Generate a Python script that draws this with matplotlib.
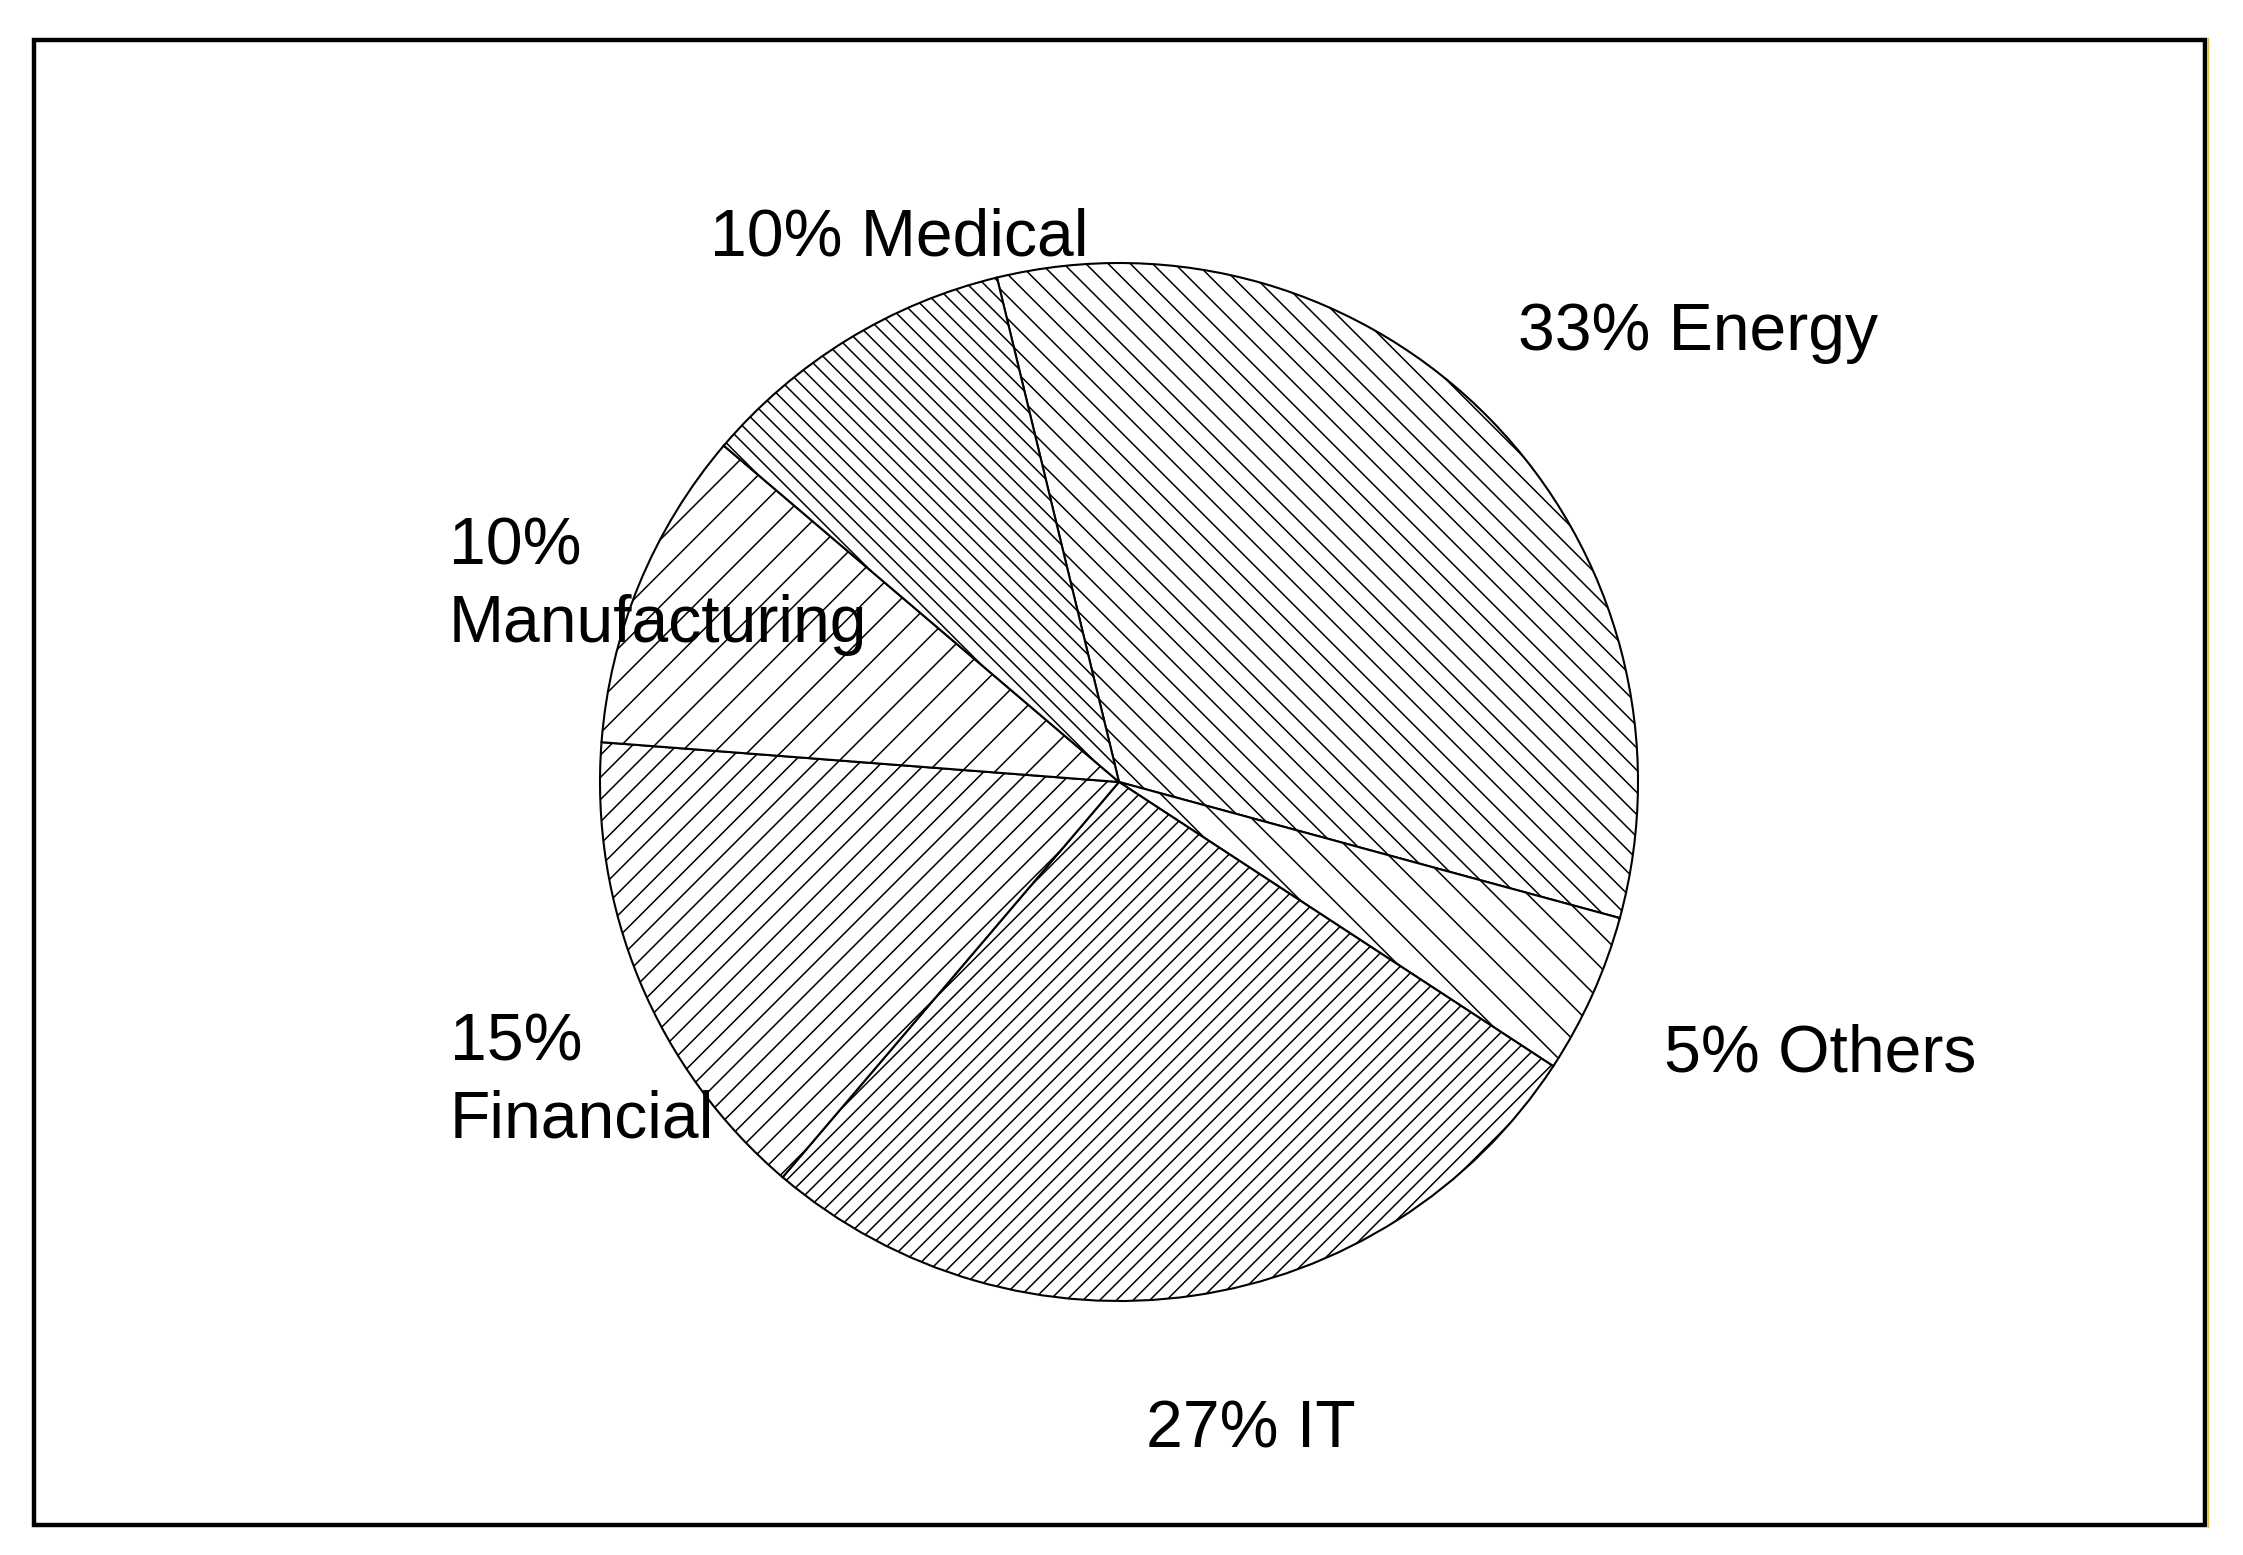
import matplotlib
matplotlib.use('Agg')
import matplotlib.pyplot as plt
from matplotlib.patches import Rectangle
from matplotlib.lines import Line2D

# ---- data ----
sectors = ['Energy', 'Others', 'IT', 'Financial', 'Manufacturing', 'Medical']
shares = [33, 5, 27, 15, 10, 10]
separators = [' ', ' ', ' ', '\n', '\n', ' ']
hatches = ['\\\\\\', '\\\\', '////', '///', '//', '\\\\\\\\']

# ---- style / layout ----
W, H, DPI = 2243, 1555, 200
plt.rcParams['font.family'] = ['Liberation Sans', 'DejaVu Sans']
plt.rcParams['hatch.linewidth'] = 0.55
plt.rcParams['hatch.color'] = 'black'

fig = plt.figure(figsize=(W / DPI, H / DPI), dpi=DPI)
fig.patch.set_facecolor('white')

cx, cy, r = 1119, 782, 519   # pie centre / radius in pixels (y from top)
ax = fig.add_axes([(cx - r) / W, 1 - (cy + r) / H, 2 * r / W, 2 * r / H])
wedges, _ = ax.pie(shares, startangle=103.6, counterclock=False, radius=1,
                   colors=['white'] * len(shares), hatch=hatches,
                   wedgeprops=dict(edgecolor='black', linewidth=0.75))
ax.set_xlim(-1, 1)
ax.set_ylim(-1, 1)
ax.axis('off')

# label anchor points (left, baseline of last line) in pixels from top-left
label_pos = {
    'Energy': (1518, 350),
    'Others': (1664, 1072),
    'IT': (1146, 1448),
    'Financial': (450, 1138),
    'Manufacturing': (449, 642),
    'Medical': (710, 255),
}
for s, v, sep in zip(sectors, shares, separators):
    x, y = label_pos[s]
    fig.text(x / W, 1 - y / H, f"{v}%{sep}{s}", ha='left', va='baseline',
             multialignment='left', fontsize=23.8, color='black',
             linespacing=1.33)

# outer frame
fig.add_artist(Rectangle((34 / W, 1 - 1525 / H), (2204.5 - 34) / W,
                         (1525 - 39.5) / H, transform=fig.transFigure,
                         fill=False, edgecolor='black', linewidth=1.6))
fig.add_artist(Line2D([2207.6 / W, 2207.6 / W], [1 - 1527 / H, 1 - 38 / H],
                      transform=fig.transFigure, color='#f2c200',
                      linewidth=0.5))

fig.savefig('out.png', dpi=DPI, facecolor='white')
